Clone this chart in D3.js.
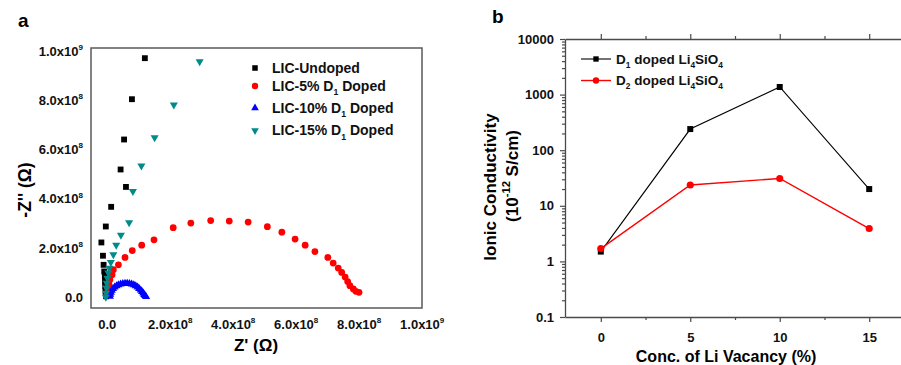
<!DOCTYPE html>
<html>
<head>
<meta charset="utf-8">
<script src="https://cdn.jsdelivr.net/npm/d3@7"></script>
<style>
  body { margin: 0; background: #fff; }
</style>
</head>
<body>
<div id="chart"></div>
<script>
// ---- panel a data : Nyquist plot, values in ohm ----
var undopedX = [1.21e8, 8.0e7, 5.5e7, 4.4e7, 6.1e7, 1.4e7, -3e6, -1.7e7, -1.2e7, -1.0e7, -8e6, -6e6, -5.5e6, -5e6, -4e6, -2e6];
var undopedY = [9.72e8, 8.05e8, 6.41e8, 5.19e8, 4.48e8, 3.67e8, 2.87e8, 2.22e8, 1.68e8, 1.31e8, 1.04e8, 8.4e7, 6.3e7, 4.3e7, 2.3e7, 3e6];

var doped5X = [8.01e8, 7.91e8, 7.83e8, 7.72e8, 7.65e8, 7.57e8, 7.46e8, 7.35e8, 7.19e8, 7.02e8, 6.61e8, 6.30e8, 5.98e8, 5.56e8, 5.10e8, 4.49e8, 3.89e8, 3.30e8, 2.67e8, 2.11e8, 1.50e8, 1.11e8, 8.1e7, 5.8e7, 3.7e7, 2.1e7, 1.7e7, 1.0e7, 7e6, 4e6, 2.5e6];
var doped5Y = [1.9e7, 2.3e7, 3.3e7, 4.6e7, 6.3e7, 8.1e7, 1.00e8, 1.18e8, 1.38e8, 1.61e8, 1.85e8, 2.11e8, 2.36e8, 2.64e8, 2.86e8, 3.05e8, 3.09e8, 3.11e8, 3.01e8, 2.82e8, 2.33e8, 2.11e8, 1.89e8, 1.61e8, 1.31e8, 1.11e8, 9.1e7, 7.0e7, 5.0e7, 3.0e7, 1.3e7];

var doped10X = [1.0e7, 1.1e7, 1.3e7, 1.6e7, 2.0e7, 2.5e7, 3.1e7, 3.7e7, 4.4e7, 5.1e7, 5.8e7, 6.5e7, 7.2e7, 7.9e7, 8.6e7, 9.2e7, 9.8e7, 1.03e8, 1.08e8, 1.12e8, 1.16e8, 1.19e8, 1.22e8, 1.25e8];
var doped10Y = [2e6, 1.1e7, 1.9e7, 2.7e7, 3.4e7, 4.0e7, 4.5e7, 4.9e7, 5.2e7, 5.4e7, 5.5e7, 5.5e7, 5.4e7, 5.2e7, 4.9e7, 4.5e7, 4.0e7, 3.4e7, 2.8e7, 2.2e7, 1.6e7, 1.0e7, 5e6, 1e6];

var doped15X = [2.95e8, 2.13e8, 1.52e8, 1.10e8, 8.3e7, 7.1e7, 4.5e7, 3.0e7, 2.1e7, 1.3e7, 8e6, 5e6, 2e6, 0, -1e6, -2e6, -3e6];
var doped15Y = [9.58e8, 7.82e8, 6.49e8, 5.34e8, 4.30e8, 3.03e8, 2.52e8, 2.11e8, 1.73e8, 1.41e8, 1.18e8, 9.8e7, 7.7e7, 5.7e7, 3.7e7, 1.6e7, 0];

var aTickVals = [0, 2e8, 4e8, 6e8, 8e8, 1e9];
var aTickText = ["0.0", "2.0x10", "4.0x10", "6.0x10", "8.0x10", "1.0x10"];
var aTickExp = ["", "8", "8", "8", "8", "9"];

// ---- panel b data : ionic conductivity ----
var vacancy = [0, 5, 10, 15];
var d1Cond = [1.5, 240, 1370, 20];
var d2Cond = [1.7, 23.7, 31, 3.9];
var bYTicks = [0.1, 1, 10, 100, 1000, 10000];
var bYLabels = ["0.1", "1", "10", "100", "1000", "10000"];
var bXMinor = [2.5, 7.5, 12.5];

var svg = d3.select("#chart")
  .append("svg")
    .attr("width", 901)
    .attr("height", 365)
    .style("font-family", "'Liberation Sans', Arial, sans-serif")
    .style("font-weight", "bold");

// writes text made of normal / sup / sub parts
function addParts(text, parts, size, small) {
  var shift = 0;
  small = small || 0.62;
  parts.forEach(function(p) {
    var target = p[1] == "sup" ? -size * 0.45 : p[1] == "sub" ? size * 0.32 : 0;
    var t = text.append("tspan")
      .attr("font-size", p[1] ? size * small : size)
      .text(p[0]);
    if (target - shift != 0) t.attr("dy", target - shift);
    shift = target;
  });
}

function zip(xs, ys) {
  return xs.map(function(x, i) { return {x: x, y: ys[i]}; });
}

// ================= panel a =================
var xa = d3.scaleLinear().domain([-5e7, 1.001e9]).range([91, 422]);
var ya = d3.scaleLinear().domain([-4.47e7, 1.0134e9]).range([308, 48]);

svg.append("rect")
  .attr("x", xa.range()[0]).attr("y", ya.range()[1])
  .attr("width", xa.range()[1] - xa.range()[0])
  .attr("height", ya.range()[0] - ya.range()[1])
  .attr("fill", "none")
  .attr("stroke", "#5a5a5a")
  .attr("stroke-width", 1.5);

var yAxisA = svg.append("g")
  .attr("transform", "translate(91,0)")
  .call(d3.axisLeft(ya).tickValues(aTickVals).tickSize(0).tickPadding(8).tickFormat(""));
yAxisA.select(".domain").remove();
yAxisA.selectAll(".tick text")
  .attr("font-size", 13).attr("font-family", null).attr("fill", "#111")
  .each(function(d, i) {
    var parts = [[aTickText[i]]];
    if (aTickExp[i]) parts.push([aTickExp[i], "sup"]);
    addParts(d3.select(this), parts, 13);
  });

var xAxisA = svg.append("g")
  .attr("transform", "translate(0,308)")
  .call(d3.axisBottom(xa).tickValues(aTickVals).tickSize(0).tickPadding(12).tickFormat(""));
xAxisA.select(".domain").remove();
xAxisA.selectAll(".tick text")
  .attr("font-size", 13).attr("font-family", null).attr("fill", "#111")
  .each(function(d, i) {
    var parts = [[aTickText[i]]];
    if (aTickExp[i]) parts.push([aTickExp[i], "sup"]);
    addParts(d3.select(this), parts, 13);
  });

// axis titles a
svg.append("text")
  .attr("transform", "translate(31,190) rotate(-90)")
  .attr("text-anchor", "middle")
  .attr("font-size", 17.5)
  .text("-Z'' (\u03A9)");
svg.append("text")
  .attr("x", 256).attr("y", 351)
  .attr("text-anchor", "middle")
  .attr("font-size", 17)
  .text("Z' (\u03A9)");
svg.append("text")
  .attr("x", 18).attr("y", 27)
  .attr("font-size", 19)
  .text("a");

// series a
var seriesA = [
  {data: zip(undopedX, undopedY), color: "#000000", sym: d3.symbolSquare, size: 34, rot: 0},
  {data: zip(doped5X, doped5Y), color: "#ff0000", sym: d3.symbolCircle, size: 36, rot: 0},
  {data: zip(doped10X, doped10Y), color: "#0000ff", sym: d3.symbolTriangle, size: 28, rot: 0},
  {data: zip(doped15X, doped15Y), color: "#008b8b", sym: d3.symbolTriangle, size: 28, rot: 180}
];

seriesA.forEach(function(s) {
  svg.append("g").selectAll("path")
    .data(s.data)
    .enter().append("path")
      .attr("d", d3.symbol().type(s.sym).size(s.size))
      .attr("transform", function(d) {
        return "translate(" + xa(d.x) + "," + ya(d.y) + ") rotate(" + s.rot + ")";
      })
      .attr("fill", s.color);
});

// legend a
var legendA = [
  [["LIC-Undoped"]],
  [["LIC-5% D"], ["1", "sub"], [" Doped"]],
  [["LIC-10% D"], ["1", "sub"], [" Doped"]],
  [["LIC-15% D"], ["1", "sub"], [" Doped"]]
];
var legendAY = [68, 86, 108, 130.5];

legendA.forEach(function(parts, i) {
  var s = seriesA[i];
  svg.append("path")
    .attr("d", d3.symbol().type(s.sym).size(s.size * 0.9))
    .attr("transform", "translate(255," + legendAY[i] + ") rotate(" + s.rot + ")")
    .attr("fill", s.color);
  var t = svg.append("text")
    .attr("x", 272).attr("y", legendAY[i] + 4.8)
    .attr("font-size", 14)
    .attr("fill", "#111");
  addParts(t, parts, 14);
});

// ================= panel b =================
var xb = d3.scaleLinear().domain([-2, 17]).range([565, 905]);
var yb = d3.scaleLog().domain([0.1, 10000]).range([317, 39]);
var axisColor = "#4a4a4a";

function styleAxis(g) {
  g.select(".domain").attr("stroke", axisColor).attr("stroke-width", 1.3);
  g.selectAll(".tick line").attr("stroke", axisColor).attr("stroke-width", 1.2);
  g.selectAll(".tick text")
    .attr("font-size", 13).attr("font-family", null).attr("fill", "#111");
}

var yAxisB = svg.append("g")
  .attr("transform", "translate(565,0)")
  .call(d3.axisLeft(yb).tickValues(bYTicks)
    .tickFormat(function(d, i) { return bYLabels[i]; })
    .tickSize(5).tickPadding(6).tickSizeOuter(0));
styleAxis(yAxisB);

// minor log ticks
var yMinor = yb.ticks().filter(function(d) { return bYTicks.indexOf(d) < 0; });
var yMinorG = svg.append("g")
  .attr("transform", "translate(565,0)")
  .call(d3.axisLeft(yb).tickValues(yMinor).tickFormat("").tickSize(3));
yMinorG.select(".domain").remove();
styleAxis(yMinorG);

var xAxisB = svg.append("g")
  .attr("transform", "translate(0,317)")
  .call(d3.axisBottom(xb).tickValues(vacancy).tickSize(5).tickPadding(11).tickSizeOuter(0));
styleAxis(xAxisB);

var xTopB = svg.append("g")
  .attr("transform", "translate(0,39)")
  .call(d3.axisTop(xb).tickValues(vacancy).tickFormat("").tickSize(5).tickSizeOuter(0));
styleAxis(xTopB);

[[317, d3.axisBottom], [39, d3.axisTop]].forEach(function(a) {
  var g = svg.append("g")
    .attr("transform", "translate(0," + a[0] + ")")
    .call(a[1](xb).tickValues(bXMinor).tickFormat("").tickSize(3));
  g.select(".domain").remove();
  styleAxis(g);
});

// titles b
svg.append("text")
  .attr("transform", "translate(496,187) rotate(-90)")
  .attr("text-anchor", "middle")
  .attr("font-size", 17)
  .text("Ionic Conductivity");
var yt2 = svg.append("text")
  .attr("transform", "translate(518,176) rotate(-90)")
  .attr("text-anchor", "middle");
addParts(yt2, [["(10"], ["-12", "sup"], [" S/cm)"]], 17, 0.66);

svg.append("text")
  .attr("x", xb(7)).attr("y", 362)
  .attr("text-anchor", "middle")
  .attr("font-size", 16)
  .text("Conc. of Li Vacancy (%)");
svg.append("text")
  .attr("x", 492).attr("y", 23)
  .attr("font-size", 19)
  .text("b");

// lines b
var seriesB = [
  {vals: d1Cond, color: "#000000", width: 1.1, sym: d3.symbolSquare, size: 36},
  {vals: d2Cond, color: "#ff0000", width: 1.4, sym: d3.symbolCircle, size: 40}
];

var line = d3.line()
  .x(function(d) { return xb(d.x); })
  .y(function(d) { return yb(d.y); });

seriesB.forEach(function(s) {
  var pts = zip(vacancy, s.vals);
  svg.append("path")
    .datum(pts)
    .attr("fill", "none")
    .attr("stroke", s.color)
    .attr("stroke-width", s.width)
    .attr("d", line);
  svg.append("g").selectAll("path")
    .data(pts)
    .enter().append("path")
      .attr("d", d3.symbol().type(s.sym).size(s.size))
      .attr("transform", function(d) { return "translate(" + xb(d.x) + "," + yb(d.y) + ")"; })
      .attr("fill", s.color);
});

// legend b
var legendB = [
  [["D"], ["1", "sub"], [" doped Li"], ["4", "sub"], ["SiO"], ["4", "sub"]],
  [["D"], ["2", "sub"], [" doped Li"], ["4", "sub"], ["SiO"], ["4", "sub"]]
];
var legendBY = [59, 80.5];

legendB.forEach(function(parts, i) {
  var s = seriesB[i];
  svg.append("line")
    .attr("x1", 581).attr("x2", 611)
    .attr("y1", legendBY[i]).attr("y2", legendBY[i])
    .attr("stroke", s.color)
    .attr("stroke-width", s.width);
  svg.append("path")
    .attr("d", d3.symbol().type(s.sym).size(s.size * 0.8))
    .attr("transform", "translate(596," + legendBY[i] + ")")
    .attr("fill", s.color);
  var t = svg.append("text")
    .attr("x", 616).attr("y", legendBY[i] + 4.5)
    .attr("font-size", 13.5)
    .attr("fill", "#111");
  addParts(t, parts, 13.5);
});
</script>
</body>
</html>
